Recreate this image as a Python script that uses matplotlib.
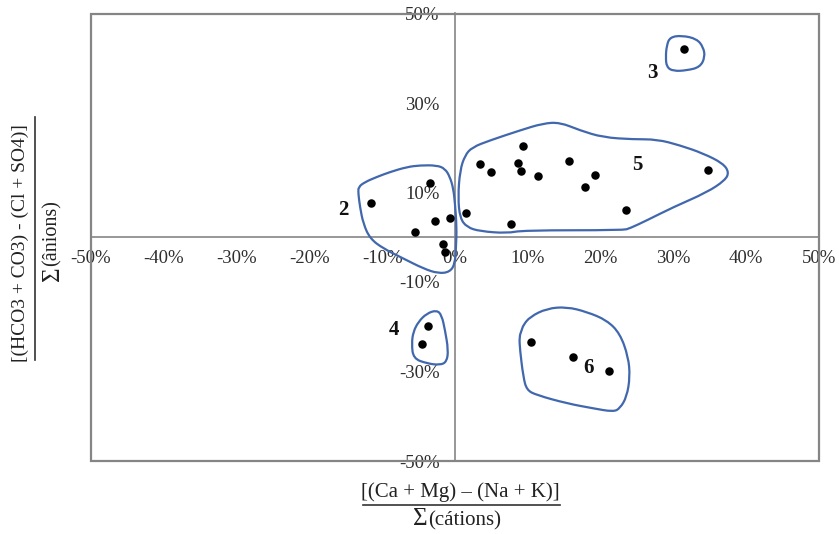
import matplotlib
matplotlib.use("Agg")
import matplotlib.pyplot as plt
from matplotlib.path import Path
from matplotlib.patches import PathPatch, Rectangle
from matplotlib.lines import Line2D
import numpy as np

# sample points, in percent
pts_x = [-11.5, -3.4, 1.5, -2.7, -0.7, -5.5, -1.7, -1.4,
         9.4, 3.4, 4.9, 8.6, 9.0, 11.4, 15.6, 19.2, 17.9, 23.5, 7.7, 34.7,
         31.5,
         -3.7, -4.6,
         10.5, 16.2, 21.2]
pts_y = [7.7, 12.2, 5.5, 3.6, 4.2, 1.1, -1.6, -3.3,
         20.4, 16.3, 14.5, 16.7, 14.8, 13.6, 17.0, 13.8, 11.2, 6.1, 3.0, 15.0,
         42.0,
         -19.9, -23.8,
         -23.4, -26.7, -29.8]

# hand drawn group outlines (percent)
group2 = [(-13.28, 11.23), (-12.36, 12.34), (-10.76, 13.46), (-8.93, 14.58),
          (-6.63, 15.69), (-4.81, 16.07), (-2.51, 16.07), (-1.37, 15.33),
          (-0.69, 13.46), (-0.23, 10.87), (0.0, 7.52), (0.23, 2.30),
          (0.14, -2.17), (0.0, -5.87), (-0.69, -7.75), (-2.29, -8.10),
          (-4.35, -6.99), (-7.10, -4.75), (-9.85, -2.52), (-11.68, -0.29),
          (-12.60, 3.06), (-13.05, 6.76), (-13.28, 9.75)]
group3 = [(29.08, 42.86), (29.53, 44.71), (31.14, 45.09), (33.20, 44.35),
          (34.11, 42.48), (34.34, 40.25), (33.65, 38.01), (31.83, 37.28),
          (29.99, 37.12), (29.08, 38.01), (28.94, 40.25)]
group4 = [(-5.04, -18.91), (-3.89, -17.03), (-2.51, -16.29), (-1.83, -17.41),
          (-1.37, -20.76), (-0.92, -25.22), (-1.14, -27.83), (-2.06, -28.57),
          (-3.89, -28.19), (-5.73, -27.08), (-5.95, -23.73), (-5.73, -21.14)]
group5 = [(0.69, 4.24), (0.41, 8.93), (0.69, 14.96), (1.37, 18.30),
          (2.34, 20.09), (4.81, 21.65), (8.93, 23.88), (12.09, 25.45),
          (14.42, 25.67), (17.17, 23.88), (20.33, 22.32), (24.45, 21.88),
          (27.75, 21.88), (30.91, 20.54), (34.07, 18.75), (36.81, 16.52),
          (37.64, 14.51), (37.09, 12.72), (34.62, 10.04), (29.95, 6.70),
          (26.37, 3.79), (24.04, 2.01), (23.08, 1.56), (9.34, 1.56),
          (7.14, 0.89), (3.43, 1.34), (1.65, 2.23)]
group6 = [(9.38, -19.64), (10.30, -17.79), (12.60, -15.92), (15.34, -15.56),
          (18.09, -16.67), (20.84, -18.53), (22.66, -21.50), (23.80, -26.72),
          (24.04, -31.18), (23.59, -35.65), (22.66, -38.24), (21.74, -39.00),
          (19.00, -38.24), (15.34, -37.12), (11.22, -35.27), (9.85, -34.15),
          (9.38, -31.18), (8.93, -25.22), (8.83, -22.25), (9.16, -20.76)]

group_names = ["2", "3", "4", "5", "6"]
group_label_x = [-15.4, 27.1, -8.4, 25.1, 18.3]
group_label_y = [6.0, 36.8, -20.8, 16.1, -29.2]

x_ticks = [-50, -40, -30, -20, -10, 0, 10, 20, 30, 40, 50]
y_ticks = [-50, -30, -10, 10, 30, 50]

serif = "Liberation Serif"
blue = "#4167ad"
grey = "#858585"
ink = "#222222"


def smooth_closed(verts):
    # quadratic bezier through edge midpoints, vertices as control points
    v = np.asarray(verts)
    mids = (v + np.roll(v, -1, axis=0)) / 2
    path_v = [mids[-1]]
    codes = [Path.MOVETO]
    for i in range(len(v)):
        path_v += [v[i], mids[i]]
        codes += [Path.CURVE3, Path.CURVE3]
    return Path(path_v, codes)


fig = plt.figure(figsize=(8.39, 5.34), dpi=100)
ax = fig.add_axes([91 / 839, 1 - 461 / 534, 728 / 839, 447.5 / 534])

ax.set_xlim(-50, 50)
ax.set_ylim(-50, 50)

for s in ["top", "right"]:
    ax.spines[s].set_visible(False)
ax.spines["left"].set_position("zero")
ax.spines["bottom"].set_position("zero")
ax.spines["left"].set_color(grey)
ax.spines["bottom"].set_color(grey)
ax.spines["left"].set_linewidth(1.2)
ax.spines["bottom"].set_linewidth(1.2)

# outer frame
ax.add_patch(Rectangle((0, 0), 1, 1, transform=ax.transAxes, fill=False,
                       edgecolor=grey, linewidth=1.6, clip_on=False, zorder=3))

ax.set_xticks(x_ticks)
ax.set_yticks(y_ticks)
ax.set_xticklabels([f"{v}%" for v in x_ticks])
ax.set_yticklabels([f"{v}%" for v in y_ticks])
ax.tick_params(axis="both", length=0, labelsize=13.5, labelcolor="#2e2e2e")
ax.tick_params(axis="x", pad=9)
ax.tick_params(axis="y", pad=11)
for lab in ax.get_xticklabels() + ax.get_yticklabels():
    lab.set_fontfamily(serif)

for g in [group2, group3, group4, group5, group6]:
    ax.add_patch(PathPatch(smooth_closed(g), fill=False, edgecolor=blue,
                           linewidth=1.6, zorder=4))

ax.scatter(pts_x, pts_y, s=26, color="black", zorder=5)

for name, lx, ly in zip(group_names, group_label_x, group_label_y):
    ax.text(lx, ly, name, fontsize=15, fontweight="bold", family=serif,
            ha="center", va="center", color="#111111", zorder=6)

# x axis label as a fraction
fig.text(460 / 839, 1 - 492 / 534, "[(Ca + Mg) \u2013 (Na + K)]", family=serif,
         fontsize=15, ha="center", va="center", color=ink)
fig.add_artist(Line2D([363 / 839, 560 / 839], [1 - 505 / 534, 1 - 505 / 534],
                      color="#333333", linewidth=1.2))
fig.text(428 / 839, 1 - 519 / 534, "\u03a3", family=serif, fontsize=18,
         ha="right", va="center", color=ink)
fig.text(428 / 839, 1 - 521 / 534, "(c\u00e1tions)", family=serif, fontsize=15,
         ha="left", va="center", color=ink)

# y axis label as a fraction
fig.text(20 / 839, 1 - 243 / 534, "[(HCO3 + CO3) - (Cl + SO4)]", family=serif,
         fontsize=14, rotation=90, ha="center", va="center", color=ink)
fig.add_artist(Line2D([35 / 839, 35 / 839], [1 - 117 / 534, 1 - 360 / 534],
                      color="#333333", linewidth=1.2))
fig.text(53 / 839, 1 - 266 / 534, "\u03a3", family=serif, fontsize=18,
         rotation=90, ha="center", va="top", color=ink)
fig.text(52 / 839, 1 - 266 / 534, "(\u00e2nions)", family=serif, fontsize=14.5,
         rotation=90, ha="center", va="bottom", color=ink)

fig.savefig("out.png", dpi=100)
